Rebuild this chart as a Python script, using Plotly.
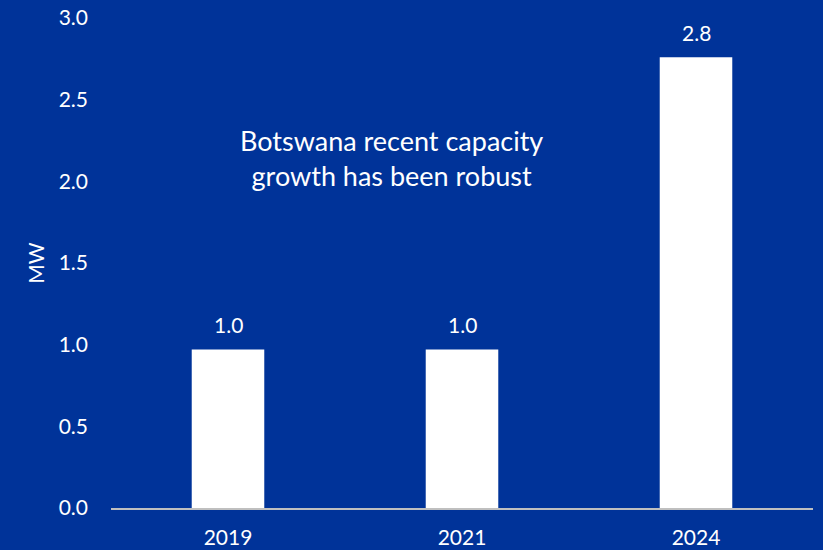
import plotly.graph_objects as go

years = ["2019", "2021", "2024"]
capacity_mw = [0.97, 0.97, 2.76]
value_labels = ["1.0", "1.0", "2.8"]
y_ticks = [0.0, 0.5, 1.0, 1.5, 2.0, 2.5, 3.0]
y_tick_labels = ["0.0", "0.5", "1.0", "1.5", "2.0", "2.5", "3.0"]

BG = "#003399"
FONT = "Lato, 'Open Sans', sans-serif"

fig = go.Figure(go.Bar(
    x=years, y=capacity_mw,
    marker=dict(color="white", line=dict(width=0)),
    cliponaxis=False,
))

# category axis positions are serial numbers 0..n-1
label_annotations = [
    dict(x=i, y=v, xref="x", yref="y", text=t, showarrow=False,
         yanchor="middle", yshift=25,
         font=dict(size=21, color="white", family=FONT))
    for i, (v, t) in enumerate(zip(capacity_mw, value_labels))
]

fig.update_layout(
    width=823, height=550,
    paper_bgcolor=BG, plot_bgcolor=BG,
    margin=dict(l=111, r=10, t=18, b=42, autoexpand=False),
    bargap=0.69,
    showlegend=False,
    font=dict(family=FONT, color="white", size=21),
    xaxis=dict(
        type="category", range=[-0.5, len(years) - 0.5], automargin=False,
        showgrid=False, showline=True,
        linecolor="#bfbfbf", linewidth=1.5, ticks="",
        tickfont=dict(size=21, color="white"), ticklabelstandoff=10,
    ),
    yaxis=dict(
        range=[0, 3.0], tickvals=y_ticks, ticktext=y_tick_labels, automargin=False,
        showgrid=False, zeroline=False, showline=False, ticks="",
        tickfont=dict(size=21, color="white"), ticklabelstandoff=22,
        title=dict(text="MW", font=dict(size=21, color="white"), standoff=8),
    ),
    annotations=label_annotations + [dict(
        text="Botswana recent capacity<br>growth has been robust",
        xref="paper", yref="y", x=0.399, y=2.14,
        showarrow=False, align="center",
        font=dict(size=27, color="white", family=FONT),
    )],
)

fig.write_html(
    "out.html",
    config={"displayModeBar": False},
    post_script="document.body.style.margin='0';document.body.style.background='%s';" % BG,
)
